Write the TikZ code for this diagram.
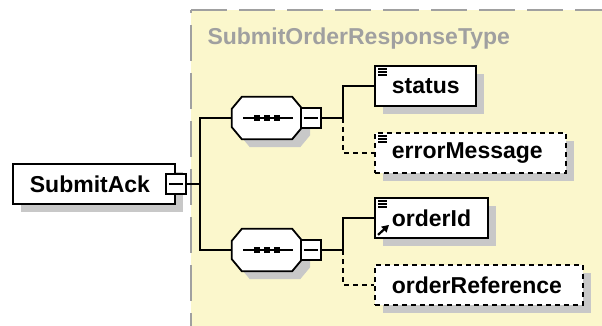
\documentclass[tikz,border=0pt]{standalone}
\usepackage{fontspec}
\setmainfont{Liberation Sans}
\usetikzlibrary{positioning,shadows,arrows.meta}
\definecolor{typefill}{RGB}{251,247,204}
\definecolor{typeline}{RGB}{160,160,160}
\definecolor{shadowgray}{RGB}{200,200,200}
\tikzset{
  xsd/.style={x=1pt, y=-1pt, font=\fontsize{23}{26}\selectfont\bfseries},
  x shadow/.style={drop shadow={shadow xshift=8pt, shadow yshift=-8pt, fill=shadowgray, opacity=1}},
  x elem/.style={draw, fill=white, line width=1.8pt, x shadow, anchor=west, align=left,
                 minimum height=40pt, inner xsep=17pt, inner ysep=0pt},
  x opt/.style={x elem, dash pattern=on 5pt off 4pt},
  x seqbox/.style={minimum width=70pt, minimum height=42pt, inner sep=0pt},
  x octa/.style={draw, fill=white, line width=1.8pt, x shadow},
  x plus/.style={draw, fill=white, line width=1.5pt, minimum size=20pt, inner sep=0pt,
                 path picture={\draw[line width=1.5pt] ([xshift=3pt]path picture bounding box.west)
                               -- ([xshift=-3pt]path picture bounding box.east);}},
  x link/.style={line width=1.8pt},
  x optlink/.style={x link, dash pattern=on 5pt off 4pt},
  x border/.style={draw=typeline, line width=2.5pt, dash pattern=on 36pt off 12pt},
  x title/.style={text=typeline, anchor=base west},
  x mark/.style={line width=1.8pt},
}
\newcommand{\seqnode}[2]{%
  \node[x seqbox] (#1) at (#2) {};
  \draw[x octa] ([xshift=10pt]#1.north west) -- ([xshift=-10pt]#1.north east)
    -- ([yshift=-12pt]#1.north east) -- ([yshift=12pt]#1.south east)
    -- ([xshift=-10pt]#1.south east) -- ([xshift=10pt]#1.south west)
    -- ([yshift=12pt]#1.south west) -- ([yshift=-12pt]#1.north west) -- cycle;
  \draw[line width=1.5pt] ([xshift=-24pt]#1.center) -- ([xshift=26pt]#1.center);
  \foreach \d in {-10,0,10}
    \fill ([xshift=\d pt]#1.center) +(-3,-3) rectangle +(3,3);
  \node[x plus, right=-2pt of #1] (#1x) {};}
\newcommand{\docmark}[1]{%
  \foreach \k in {4,7,10}
    \draw[x mark] ([shift={(4,\k)}]#1.north west) -- +(9,0);}

\begin{document}
\begin{tikzpicture}[xsd]
\useasboundingbox (0,0) rectangle (602,326);
% ---- complex type panel ----
\fill[typefill] (191,10) rectangle (610,335);
\draw[x border] (191,10) -- (610,10);
\draw[x border, dash phase=33pt] (191,10) -- (191,335);
\node[x title] (title) at (204,45) {SubmitOrderResponseType};
% ---- root element ----
\node[x elem, text width=128pt] (ack) at (12,184) {SubmitAck};
\node[x plus] (ackx) at (ack.east) {};
\coordinate (hub) at (200,184);
% ---- sequences ----
\seqnode{s1}{267,118}
\seqnode{s2}{267,250}
\coordinate (j1) at (343,118);
\coordinate (j2) at (343,250);
% ---- child elements ----
\node[x elem, text width=67pt]  (status)   at (374,86)  {status};
\node[x opt,  text width=157pt] (errmsg)   at (374,153) {errorMessage};
\node[x elem, text width=79pt]  (orderid)  at (374,218) {orderId};
\node[x opt,  text width=174pt] (orderref) at (374,285) {orderReference};
\docmark{status} \docmark{errmsg} \docmark{orderid}
\draw[line width=2.2pt, -{Triangle[length=7pt, width=7.5pt]}]
  ([shift={(4,-4)}]orderid.south west) -- +(11,-10);
% ---- connectors ----
\draw[x link] (ackx.east) -- (hub);
\draw[x link] (s1.west) -| (hub) |- (s2.west);
\draw[x link] (s1x.east) -- (j1) |- (status.west);
\draw[x optlink] (j1) |- (errmsg.west);
\draw[x link] (s2x.east) -- (j2) |- (orderid.west);
\draw[x optlink] (j2) |- (orderref.west);
\end{tikzpicture}
\end{document}
